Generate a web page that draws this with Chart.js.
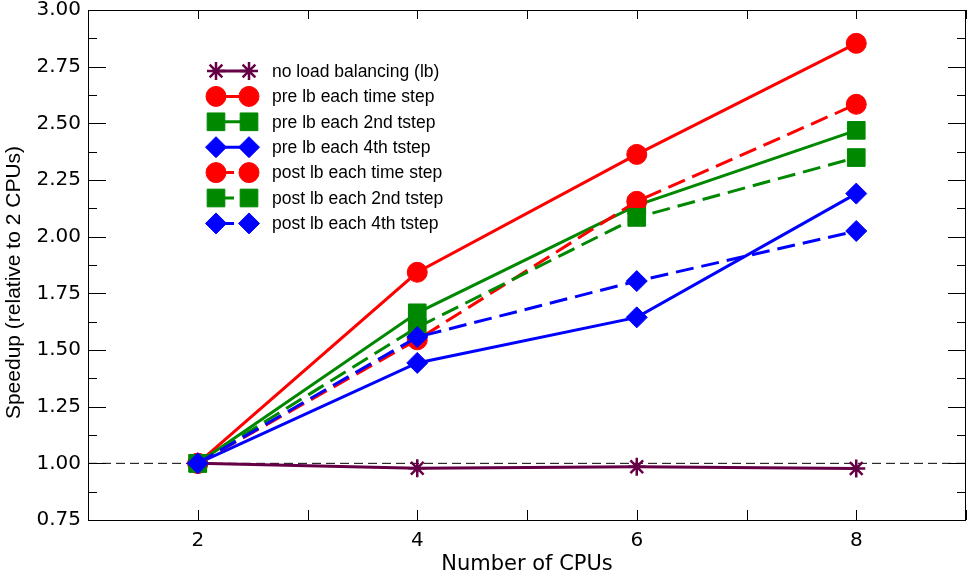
<!DOCTYPE html>
<html>
<head>
<meta charset="utf-8">
<script src="https://cdn.jsdelivr.net/npm/chart.js@4.4.1/dist/chart.umd.min.js"></script>
<style>
  html, body { margin: 0; padding: 0; background: #fff; }
  #wrap { width: 969px; height: 575px; }
</style>
</head>
<body>
<div id="wrap"><canvas id="speedup-chart" width="969" height="575"></canvas></div>
<script>
// number of CPUs on the x axis
const cpus = [2, 4, 6, 8];
const xTickLabels = [2, 4, 6, 8];

// speedup relative to 2 CPUs
const noLb = [1.0, 0.978, 0.985, 0.977];
const preEachStep = [1.0, 1.843, 2.363, 2.853];
const pre2ndStep = [1.0, 1.664, 2.138, 2.469];
const pre4thStep = [1.0, 1.443, 1.644, 2.19];
const postEachStep = [1.0, 1.545, 2.156, 2.584];
const post2ndStep = [1.0, 1.6, 2.085, 2.349];
const post4thStep = [1.0, 1.557, 1.804, 2.025];

// reference line at speedup 1
const refX = [1, 9];
const refY = [1.0, 1.0];

const purple = "#660046";
const red = "#ff0000";
const green = "#008800";
const blue = "#0000ff";
const dash = [18, 8];

const ctx = document.getElementById("speedup-chart");

function toPoints(xs, ys) {
  return xs.map((x, i) => ({ x: x, y: ys[i] }));
}

function series(label, values, color, style, dashed, idx) {
  let radius = 10;
  if (style === "rect") radius = 12.5;
  if (style === "rectRot") radius = 10.5;
  if (style === "star") radius = 9;
  return {
    label: label,
    data: toPoints(cpus, values),
    borderColor: color,
    backgroundColor: color,
    pointBackgroundColor: color,
    pointBorderColor: color,
    borderWidth: 3,
    borderDash: dashed ? dash : [],
    pointStyle: style,
    pointRadius: radius,
    pointBorderWidth: style === "star" ? 2.5 : 1,
    tension: 0,
    order: 20 - idx, // later series on top
  };
}

const datasets = [
  {
    label: "ref",
    data: toPoints(refX, refY),
    borderColor: "#000",
    borderWidth: 1,
    borderDash: [9, 5],
    pointRadius: 0,
    order: 100,
  },
  series("no load balancing (lb)", noLb, purple, "star", false, 0),
  series("pre lb each time step", preEachStep, red, "circle", false, 1),
  series("pre lb each 2nd tstep", pre2ndStep, green, "rect", false, 2),
  series("pre lb each 4th tstep", pre4thStep, blue, "rectRot", false, 3),
  series("post lb each time step", postEachStep, red, "circle", true, 4),
  series("post lb each 2nd tstep", post2ndStep, green, "rect", true, 5),
  series("post lb each 4th tstep", post4thStep, blue, "rectRot", true, 6),
];

// frame + inward ticks on all four sides
const framePlugin = {
  id: "frame",
  afterDraw(chart) {
    const c = chart.ctx;
    const a = chart.chartArea;
    const xs = chart.scales.x;
    const ys = chart.scales.y;
    c.save();
    c.strokeStyle = "#000";
    c.lineWidth = 1;
    c.setLineDash([]);
    c.strokeRect(Math.round(a.left) + 0.5, Math.round(a.top) + 0.5,
      Math.round(a.right - a.left) - 1, Math.round(a.bottom - a.top));
    c.beginPath();
    for (let v = 0.75; v <= 3.0001; v += 0.125) {
      const y = Math.round(ys.getPixelForValue(v)) + 0.5;
      const len = Math.abs(v * 4 - Math.round(v * 4)) < 0.01 ? 18 : 9;
      c.moveTo(a.left, y);
      c.lineTo(a.left + len, y);
      c.moveTo(a.right, y);
      c.lineTo(a.right - len, y);
    }
    for (let v = 1; v <= 9; v++) {
      const x = Math.round(xs.getPixelForValue(v)) + 0.5;
      c.moveTo(x, a.bottom);
      c.lineTo(x, a.bottom - 10);
      c.moveTo(x, a.top);
      c.lineTo(x, a.top + 9);
    }
    c.stroke();
    c.restore();
  },
};

// legend drawn inside the plot, upper left
const legendPlugin = {
  id: "insideLegend",
  afterDraw(chart) {
    const c = chart.ctx;
    const items = chart.data.datasets.slice(1);
    const x1 = 216;
    const x2 = 249;
    const top = 71;
    const step = 25.4;
    items.forEach((ds, i) => {
      const y = top + i * step;
      c.save();
      c.strokeStyle = ds.borderColor;
      c.lineWidth = 3;
      c.setLineDash(ds.borderDash);
      c.beginPath();
      c.moveTo(x1, y);
      c.lineTo(x2, y);
      c.stroke();
      c.setLineDash([]);
      c.fillStyle = ds.pointBackgroundColor;
      c.strokeStyle = ds.pointBorderColor;
      c.lineWidth = ds.pointBorderWidth;
      const opts = { pointStyle: ds.pointStyle, radius: ds.pointRadius, rotation: 0, borderWidth: ds.pointBorderWidth };
      Chart.helpers.drawPoint(c, opts, x1, y);
      Chart.helpers.drawPoint(c, opts, x2, y);
      c.fillStyle = "#000";
      c.font = '17.5px "Liberation Sans", Arial, sans-serif';
      c.textBaseline = "middle";
      c.fillText(ds.label, 272, y + 1);
      c.restore();
    });
  },
};

const myChart = new Chart(ctx, {
  type: "line",
  data: { datasets: datasets },
  options: {
    responsive: false,
    animation: false,
    devicePixelRatio: 1,
    layout: { autoPadding: false, padding: { top: 10, right: 3, left: 0, bottom: 0 } },
    plugins: {
      legend: { display: false },
      tooltip: { enabled: false },
    },
    scales: {
      x: {
        type: "linear",
        min: 1,
        max: 9,
        grid: { display: false, drawTicks: false },
        border: { display: false },
        ticks: {
          stepSize: 1,
          autoSkip: false,
          maxRotation: 0,
          padding: 9,
          color: "#000",
          font: { family: "DejaVu Sans", size: 20 },
          callback: (v) => (xTickLabels.includes(v) ? String(v) : ""),
        },
        title: {
          display: true,
          text: "Number of CPUs",
          color: "#000",
          font: { family: "DejaVu Sans", size: 21, lineHeight: 1.0 },
          padding: { top: 0, bottom: 0 },
        },
        afterFit: (scale) => {
          scale.height = 55;
          scale.paddingLeft = 0;
          scale.paddingRight = 0;
        },
      },
      y: {
        min: 0.75,
        max: 3.0,
        grid: { display: false, drawTicks: false },
        border: { display: false },
        ticks: {
          stepSize: 0.25,
          padding: 7,
          color: "#000",
          font: { family: "DejaVu Sans", size: 20 },
          callback: (v) => v.toFixed(2),
        },
        title: {
          display: true,
          // trailing spaces push the title a bit lower, like the original
          text: "Speedup (relative to 2 CPUs)      ",
          color: "#000",
          font: { family: "Liberation Sans", size: 21 },
          padding: { top: 2, bottom: 0 },
        },
        afterFit: (scale) => {
          scale.width = 88;
          scale.paddingTop = 0;
          scale.paddingBottom = 0;
        },
      },
    },
  },
  plugins: [framePlugin, legendPlugin],
});
</script>
</body>
</html>
